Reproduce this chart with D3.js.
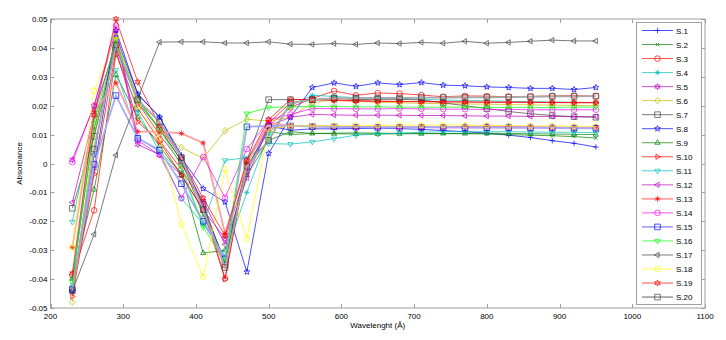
<!DOCTYPE html>
<html>
<head>
  <meta charset="utf-8">
  <title>Absorbance spectra</title>
  <script src="https://d3js.org/d3.v7.min.js"></script>
  <style>
    body { margin: 0; background: #fff; }
    text { font-family: "Liberation Sans", Arial, Helvetica, sans-serif; font-size: 8px; fill: #000; }
    .frame { fill: none; stroke: #a0a0a0; stroke-width: 1; }
    .tick { stroke: #a0a0a0; stroke-width: 1; }
  </style>
</head>
<body>
  <div id="chart"></div>
  <script>

    /* DATA */

    let wavelengths = [230, 260, 290, 320, 350, 380, 410, 440, 470, 500, 530, 560, 590,
                       620, 650, 680, 710, 740, 770, 800, 830, 860, 890, 920, 950];

    let xTicks = [200, 300, 400, 500, 600, 700, 800, 900, 1000, 1100];
    let yTicks = [-0.05, -0.04, -0.03, -0.02, -0.01, 0, 0.01, 0.02, 0.03, 0.04, 0.05];

    let names = ["S.1", "S.2", "S.3", "S.4", "S.5", "S.6", "S.7", "S.8", "S.9", "S.10",
                 "S.11", "S.12", "S.13", "S.14", "S.15", "S.16", "S.17", "S.18", "S.19", "S.20"];

    let s1 = [-0.0440, -0.0020, 0.0440, 0.0240, 0.0160, 0.0030, -0.0150, -0.0340, -0.0020, 0.0130, 0.0115, 0.0120, 0.0120, 0.0121, 0.0122, 0.0121, 0.0118, 0.0114, 0.0110, 0.0105, 0.0098, 0.0090, 0.0079, 0.0070, 0.0057];
    let s2 = [-0.0400, 0.0120, 0.0410, 0.0210, 0.0120, 0.0010, -0.0180, -0.0330, -0.0010, 0.0110, 0.0100, 0.0104, 0.0105, 0.0106, 0.0105, 0.0104, 0.0104, 0.0103, 0.0103, 0.0102, 0.0100, 0.0098, 0.0096, 0.0093, 0.0088];
    let s3 = [-0.0386, -0.0162, 0.0380, 0.0190, 0.0080, -0.0020, -0.0140, -0.0398, 0.0010, 0.0130, 0.0194, 0.0225, 0.0251, 0.0236, 0.0244, 0.0242, 0.0237, 0.0231, 0.0234, 0.0233, 0.0231, 0.0232, 0.0234, 0.0235, 0.0233];
    let s4 = [-0.0420, 0.0190, 0.0400, 0.0180, 0.0040, -0.0030, -0.0210, -0.0320, -0.0100, 0.0100, 0.0200, 0.0236, 0.0232, 0.0228, 0.0226, 0.0225, 0.0222, 0.0220, 0.0218, 0.0217, 0.0215, 0.0214, 0.0213, 0.0212, 0.0211];
    let s5 = [0.0013, 0.0200, 0.0460, 0.0066, 0.0030, -0.0040, -0.0160, -0.0260, -0.0030, 0.0120, 0.0130, 0.0128, 0.0126, 0.0126, 0.0125, 0.0126, 0.0127, 0.0126, 0.0128, 0.0129, 0.0128, 0.0127, 0.0126, 0.0125, 0.0126];
    let s6 = [-0.0479, 0.0100, 0.0430, 0.0230, 0.0110, 0.0055, 0.0018, 0.0113, 0.0153, 0.0147, 0.0160, 0.0210, 0.0221, 0.0215, 0.0212, 0.0210, 0.0208, 0.0207, 0.0206, 0.0205, 0.0204, 0.0203, 0.0202, 0.0201, 0.0200];
    let s7 = [-0.0155, 0.0094, 0.0400, 0.0220, 0.0120, 0.0010, -0.0140, -0.0350, 0.0010, 0.0221, 0.0221, 0.0221, 0.0227, 0.0221, 0.0222, 0.0222, 0.0220, 0.0210, 0.0200, 0.0190, 0.0180, 0.0172, 0.0166, 0.0162, 0.0160];
    let s8 = [-0.0440, 0.0029, 0.0460, 0.0240, 0.0161, 0.0020, -0.0087, -0.0133, -0.0375, 0.0035, 0.0160, 0.0263, 0.0279, 0.0267, 0.0279, 0.0273, 0.0280, 0.0271, 0.0269, 0.0265, 0.0263, 0.0260, 0.0260, 0.0256, 0.0263];
    let s9 = [-0.0398, -0.0090, 0.0306, 0.0160, 0.0060, -0.0040, -0.0310, -0.0300, -0.0040, 0.0080, 0.0110, 0.0104, 0.0103, 0.0102, 0.0102, 0.0103, 0.0103, 0.0104, 0.0104, 0.0105, 0.0104, 0.0103, 0.0102, 0.0101, 0.0100];
    let s10 = [-0.0460, -0.0037, 0.0390, 0.0144, 0.0075, -0.0040, -0.0160, -0.0400, 0.0000, 0.0140, 0.0210, 0.0220, 0.0220, 0.0218, 0.0216, 0.0215, 0.0214, 0.0214, 0.0213, 0.0212, 0.0212, 0.0211, 0.0211, 0.0210, 0.0210];
    let s11 = [-0.0202, 0.0160, 0.0323, 0.0090, 0.0040, -0.0120, -0.0210, 0.0011, 0.0020, 0.0069, 0.0067, 0.0075, 0.0086, 0.0098, 0.0102, 0.0105, 0.0108, 0.0110, 0.0110, 0.0110, 0.0110, 0.0109, 0.0108, 0.0108, 0.0107];
    let s12 = [-0.0135, 0.0170, 0.0420, 0.0210, 0.0100, 0.0000, -0.0130, -0.0280, -0.0050, 0.0130, 0.0160, 0.0170, 0.0168, 0.0167, 0.0167, 0.0167, 0.0166, 0.0166, 0.0165, 0.0164, 0.0164, 0.0163, 0.0163, 0.0162, 0.0162];
    let s13 = [-0.0290, 0.0180, 0.0279, 0.0110, 0.0110, 0.0104, 0.0071, -0.0242, 0.0000, 0.0140, 0.0130, 0.0130, 0.0128, 0.0127, 0.0127, 0.0126, 0.0126, 0.0125, 0.0125, 0.0125, 0.0124, 0.0124, 0.0123, 0.0123, 0.0123];
    let s14 = [0.0005, 0.0200, 0.0478, 0.0080, 0.0030, -0.0120, 0.0023, -0.0118, 0.0050, 0.0150, 0.0170, 0.0190, 0.0190, 0.0189, 0.0189, 0.0190, 0.0189, 0.0188, 0.0188, 0.0187, 0.0187, 0.0186, 0.0186, 0.0186, 0.0186];
    let s15 = [-0.0435, -0.0003, 0.0235, 0.0087, 0.0046, -0.0070, -0.0200, -0.0330, 0.0127, 0.0130, 0.0130, 0.0128, 0.0127, 0.0126, 0.0125, 0.0125, 0.0125, 0.0125, 0.0124, 0.0124, 0.0124, 0.0123, 0.0123, 0.0122, 0.0122];
    let s16 = [-0.0410, 0.0140, 0.0430, 0.0220, 0.0120, -0.0010, -0.0220, -0.0340, 0.0173, 0.0194, 0.0196, 0.0197, 0.0197, 0.0196, 0.0196, 0.0195, 0.0195, 0.0195, 0.0195, 0.0194, 0.0194, 0.0194, 0.0194, 0.0195, 0.0195];
    let s17 = [-0.0442, -0.0245, 0.0029, 0.0225, 0.0420, 0.0421, 0.0421, 0.0417, 0.0417, 0.0421, 0.0413, 0.0412, 0.0415, 0.0412, 0.0417, 0.0415, 0.0419, 0.0416, 0.0423, 0.0416, 0.0419, 0.0423, 0.0427, 0.0424, 0.0424];
    let s18 = [-0.0290, 0.0251, 0.0440, 0.0200, 0.0090, -0.0210, -0.0392, -0.0020, -0.0260, 0.0120, 0.0130, 0.0130, 0.0131, 0.0132, 0.0132, 0.0133, 0.0133, 0.0133, 0.0133, 0.0132, 0.0131, 0.0130, 0.0130, 0.0129, 0.0128];
    let s19 = [-0.0380, 0.0167, 0.0500, 0.0282, 0.0130, 0.0020, -0.0120, -0.0250, 0.0010, 0.0152, 0.0221, 0.0222, 0.0218, 0.0216, 0.0215, 0.0214, 0.0214, 0.0213, 0.0213, 0.0212, 0.0212, 0.0212, 0.0211, 0.0211, 0.0211];
    let s20 = [-0.0440, 0.0050, 0.0410, 0.0220, 0.0144, 0.0020, -0.0160, -0.0360, -0.0010, 0.0080, 0.0210, 0.0220, 0.0225, 0.0226, 0.0227, 0.0227, 0.0228, 0.0228, 0.0229, 0.0229, 0.0230, 0.0231, 0.0232, 0.0232, 0.0233];

    let values = [s1, s2, s3, s4, s5, s6, s7, s8, s9, s10, s11, s12, s13, s14, s15, s16, s17, s18, s19, s20];

    /* STYLES (matlab-ish line colours and markers) */

    let lineColors = ["#0000ff", "#008000", "#ff0000", "#00bfbf", "#bf00bf", "#bfbf00", "#404040",
                      "#0000ff", "#008000", "#ff0000", "#00bfbf", "#bf00bf", "#ffa0a0", "#ff00ff",
                      "#a8a8ff", "#00ff00", "#404040", "#ffff00", "#ff0000", "#a8a8a8"];
    let markColors = ["#0000ff", "#008000", "#ff0000", "#00bfbf", "#bf00bf", "#bfbf00", "#404040",
                      "#0000ff", "#008000", "#ff0000", "#00bfbf", "#bf00bf", "#ff0000", "#ff00ff",
                      "#0000ff", "#00ff00", "#404040", "#ffff00", "#ff0000", "#404040"];
    let lineWidths = [0.7, 0.7, 0.7, 0.7, 0.7, 0.7, 0.7, 0.7, 0.7, 0.7,
                      0.7, 0.7, 1.8, 0.7, 1.8, 0.7, 0.7, 0.7, 0.7, 1.8];
    let markers = ["+", "x", "o", "*", "h", "d", "s", "p", "^", ">",
                   "v", "<", "*", "o", "s", "v", "<", "o", "h", "s"];

    function markerPath(type, r) {
      let p = d3.path();
      if (type === "+") {
        p.moveTo(-r, 0); p.lineTo(r, 0); p.moveTo(0, -r); p.lineTo(0, r);
      } else if (type === "x") {
        let k = r * 0.6;
        p.moveTo(-k, -k); p.lineTo(k, k); p.moveTo(-k, k); p.lineTo(k, -k);
      } else if (type === "*") {
        let k = r * 0.7;
        p.moveTo(-r, 0); p.lineTo(r, 0); p.moveTo(0, -r); p.lineTo(0, r);
        p.moveTo(-k, -k); p.lineTo(k, k); p.moveTo(-k, k); p.lineTo(k, -k);
      } else if (type === "o") {
        p.arc(0, 0, r, 0, 2 * Math.PI);
      } else if (type === "s") {
        p.rect(-r, -r, 2 * r, 2 * r);
      } else if (type === "d") {
        p.moveTo(0, -r * 1.2); p.lineTo(r, 0); p.lineTo(0, r * 1.2); p.lineTo(-r, 0); p.closePath();
      } else if (type === "^" || type === "v" || type === "<" || type === ">") {
        let a = {"^": -90, "v": 90, "<": 180, ">": 0}[type] * Math.PI / 180;
        for (let i = 0; i < 3; i++) {
          let t = a + i * 2 * Math.PI / 3;
          if (i === 0) p.moveTo(r * 1.1 * Math.cos(t), r * 1.1 * Math.sin(t));
          else p.lineTo(r * 1.1 * Math.cos(t), r * 1.1 * Math.sin(t));
        }
        p.closePath();
      } else if (type === "p" || type === "h") {
        let n = type === "p" ? 5 : 6;
        for (let i = 0; i < 2 * n; i++) {
          let t = -Math.PI / 2 + i * Math.PI / n;
          let rr = i % 2 === 0 ? r * 1.1 : r * 0.5;
          if (i === 0) p.moveTo(rr * Math.cos(t), rr * Math.sin(t));
          else p.lineTo(rr * Math.cos(t), rr * Math.sin(t));
        }
        p.closePath();
      }
      return p.toString();
    }

    /* CANVAS AND SCALES */

    let width = 726, height = 340;
    let plot = {left: 50.5, right: 705, top: 19, bottom: 308};

    let svg = d3.select("#chart").append("svg")
      .attr("width", width)
      .attr("height", height);

    let xScale = d3.scaleLinear().domain([200, 1100]).range([plot.left, plot.right]);
    let yScale = d3.scaleLinear().domain([-0.05, 0.05]).range([plot.bottom, plot.top]);

    /* AXES: box with inward ticks */

    svg.append("rect")
      .attr("class", "frame")
      .attr("x", plot.left)
      .attr("y", plot.top)
      .attr("width", plot.right - plot.left)
      .attr("height", plot.bottom - plot.top);

    let tickLen = 4;

    xTicks.forEach(function(t) {
      let x = Math.round(xScale(t)) + 0.5;
      svg.append("line").attr("class", "tick")
        .attr("x1", x).attr("x2", x).attr("y1", plot.bottom).attr("y2", plot.bottom - tickLen);
      svg.append("line").attr("class", "tick")
        .attr("x1", x).attr("x2", x).attr("y1", plot.top).attr("y2", plot.top + tickLen);
      svg.append("text")
        .attr("x", xScale(t))
        .attr("y", plot.bottom + 11)
        .attr("text-anchor", "middle")
        .text(t);
    });

    yTicks.forEach(function(t) {
      let y = Math.round(yScale(t)) + 0.5;
      svg.append("line").attr("class", "tick")
        .attr("x1", plot.left).attr("x2", plot.left + tickLen).attr("y1", y).attr("y2", y);
      svg.append("line").attr("class", "tick")
        .attr("x1", plot.right).attr("x2", plot.right - tickLen).attr("y1", y).attr("y2", y);
      svg.append("text")
        .attr("x", plot.left - 3)
        .attr("y", yScale(t) + 3)
        .attr("text-anchor", "end")
        .text(Math.abs(t) < 1e-9 ? "0" : t.toFixed(2));
    });

    svg.append("text")
      .attr("x", (plot.left + plot.right) / 2)
      .attr("y", 328)
      .attr("text-anchor", "middle")
      .text("Wavelenght (\u00c5)");

    svg.append("text")
      .attr("transform", "rotate(-90)")
      .attr("x", -(plot.top + plot.bottom) / 2)
      .attr("y", 22)
      .attr("text-anchor", "middle")
      .text("Absorbance");

    /* LINES AND MARKERS */

    let line = d3.line()
      .x(function(d, i) { return xScale(wavelengths[i]); })
      .y(function(d) { return yScale(d); });

    values.forEach(function(vals, k) {
      let g = svg.append("g");
      g.append("path")
        .attr("d", line(vals))
        .attr("fill", "none")
        .attr("stroke", lineColors[k])
        .attr("stroke-width", lineWidths[k]);
      g.selectAll("path.mk")
        .data(vals)
        .enter()
        .append("path")
          .attr("class", "mk")
          .attr("transform", function(d, i) { return `translate(${xScale(wavelengths[i])},${yScale(d)})`; })
          .attr("d", markerPath(markers[k], 2.8))
          .attr("fill", "none")
          .attr("stroke", markColors[k])
          .attr("stroke-width", 0.7);
    });

    /* LEGEND */

    let legend = {left: 636, top: 22, width: 65, height: 282, rowTop: 30.5, rowStep: 14.03};

    svg.append("rect")
      .attr("x", legend.left + 0.5)
      .attr("y", legend.top + 0.5)
      .attr("width", legend.width)
      .attr("height", legend.height)
      .attr("fill", "#fff")
      .attr("stroke", "#a0a0a0");

    names.forEach(function(name, k) {
      let y = legend.rowTop + k * legend.rowStep;
      svg.append("line")
        .attr("x1", 642).attr("x2", 673)
        .attr("y1", y).attr("y2", y)
        .attr("stroke", lineColors[k])
        .attr("stroke-width", lineWidths[k]);
      svg.append("path")
        .attr("transform", `translate(657.5,${y})`)
        .attr("d", markerPath(markers[k], 2.8))
        .attr("fill", "none")
        .attr("stroke", markColors[k])
        .attr("stroke-width", 0.7);
      svg.append("text")
        .attr("x", 676)
        .attr("y", y + 3)
        .text(name);
    });

  </script>
</body>
</html>
